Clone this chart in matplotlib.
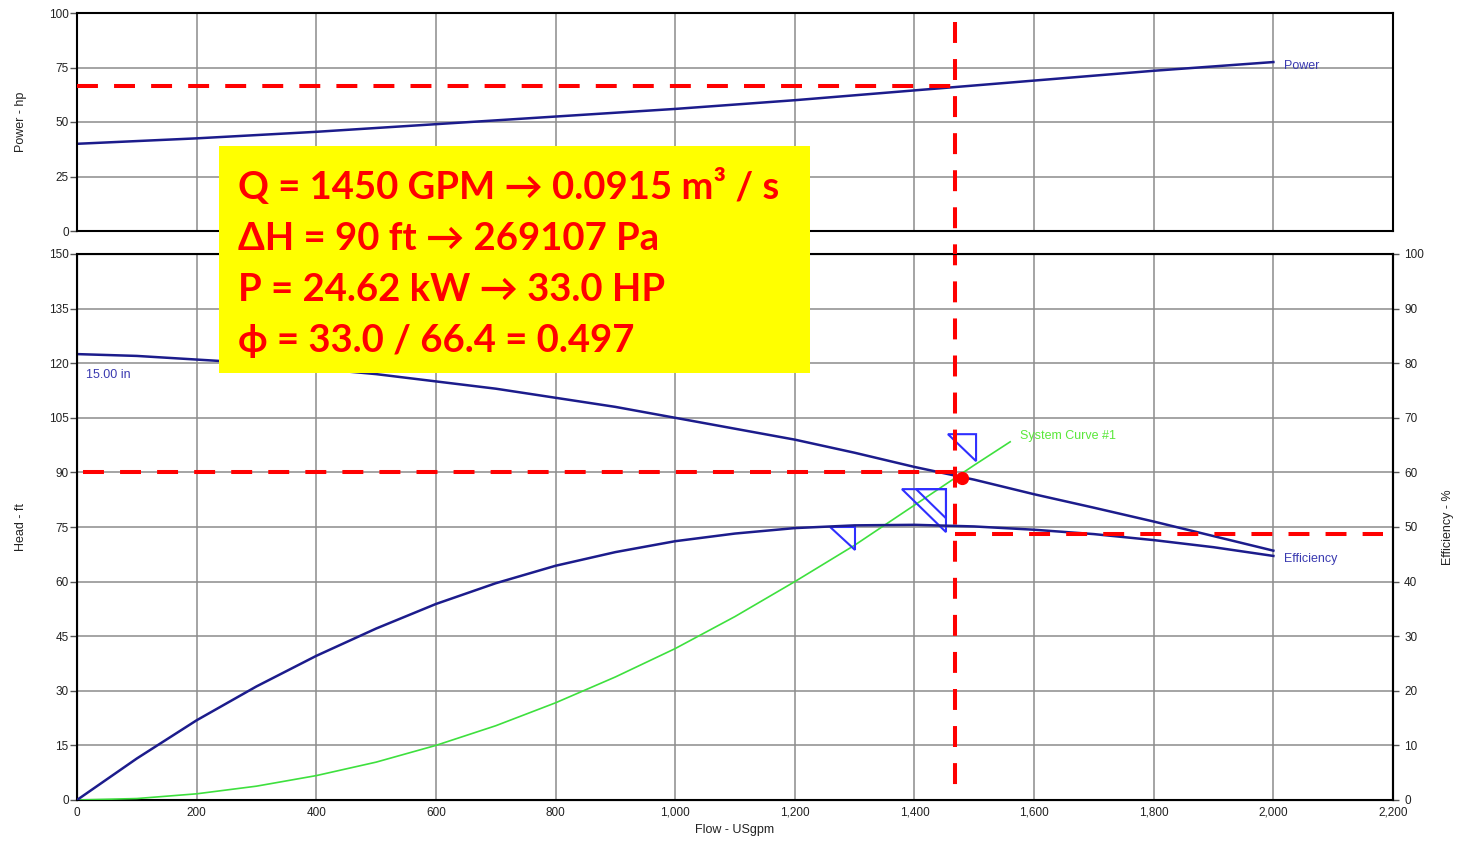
import numpy as np
import matplotlib.pyplot as plt
from matplotlib.patches import Rectangle, Polygon
from matplotlib.ticker import FuncFormatter, MultipleLocator
import matplotlib.transforms as mtransforms

plt.rcParams['font.family'] = ['Liberation Sans', 'DejaVu Sans']

# pump curves
flow = [0, 100, 200, 300, 400, 500, 600, 700, 800, 900, 1000,
        1100, 1200, 1300, 1400, 1500, 1600, 1700, 1800, 1900, 2000]
head_ft = [122.5, 122, 121, 120, 118.5, 117, 115, 113, 110.5, 108, 105,
           102, 99, 95.4, 91.5, 88, 84, 80.3, 76.5, 72.5, 68.5]
eff_pct = [0, 7.6, 14.6, 20.8, 26.4, 31.4, 35.9, 39.7, 42.9, 45.4, 47.4,
           48.8, 49.8, 50.3, 50.4, 50.1, 49.5, 48.7, 47.6, 46.3, 44.7]
power_flow = [0, 200, 400, 600, 800, 1000, 1200, 1400, 1600, 1800, 2000]
power_hp = [40, 42.5, 45.5, 49, 52.5, 56, 60, 64.5, 69, 73.5, 77.5]

sys_flow = [0, 100, 200, 300, 400, 500, 600, 700, 800, 900, 1000,
            1100, 1200, 1300, 1400, 1500, 1560]
sys_head = [0, 0.4, 1.7, 3.8, 6.7, 10.4, 15, 20.4, 26.7, 33.8, 41.6,
            50.4, 60, 70, 81, 92, 98.4]

# efficiency markers (right-angle corner, width in gpm, height in ft)
tri_flow = [1300.6, 1452.7, 1452.7, 1503]
tri_head = [75.0, 85.4, 85.4, 100.5]
tri_w = [41.6, 73.6, 50, 47]
tri_h = [6.3, 11.8, 8, 7.4]

# operating point
q_op = 1467
head_op = 90
power_op = 66.4
eff_op = 48.7
dot_flow, dot_head = 1479, 88.5

note_lines = ['Q = 1450 GPM \u2192 0.0915 m\u00b3 / s',
              '\u0394H = 90 ft \u2192 269107 Pa',
              'P = 24.62 kW \u2192 33.0 HP',
              '\u03d5 = 33.0 / 66.4 = 0.497']

W, H = 1461, 842
fig = plt.figure(figsize=(W / 100, H / 100), dpi=100)

def fx(px):
    return px / W

def fy(py):
    return 1 - py / H

navy = '#1c1c8c'
lblue = '#3a3ab0'
grid_c = '#8c8c8c'
tick_c = '#222222'
red = '#ff0000'

ax_top = fig.add_axes([fx(77), fy(231), fx(1393) - fx(77), fy(13) - fy(231)])
ax = fig.add_axes([fx(77), fy(800), fx(1393) - fx(77), fy(254) - fy(800)])
ax2 = ax.twinx()

comma = FuncFormatter(lambda v, p: f'{int(v):,}')

for a in (ax_top, ax):
    a.set_xlim(0, 2200)
    a.xaxis.set_major_locator(MultipleLocator(200))
    a.grid(True, color=grid_c, lw=1.1)
    a.set_axisbelow(True)
    for s in a.spines.values():
        s.set_linewidth(1.5)
    a.tick_params(axis='y', length=5, width=1, pad=1, labelsize=8.5,
                  labelcolor=tick_c, color='#555555')

ax_top.set_ylim(0, 100)
ax_top.yaxis.set_major_locator(MultipleLocator(25))
ax_top.tick_params(axis='x', length=0, labelbottom=False)
ax_top.set_ylabel('Power - hp', fontsize=9, color=tick_c, labelpad=16)

ax.set_ylim(0, 150)
ax.yaxis.set_major_locator(MultipleLocator(15))
ax.xaxis.set_major_formatter(comma)
ax.tick_params(axis='x', length=0, pad=5, labelsize=8.5, labelcolor=tick_c)
ax.set_ylabel('Head - ft', fontsize=9, color=tick_c, labelpad=16)
ax.set_xlabel('Flow - USgpm', fontsize=9, color=tick_c, labelpad=4)

ax2.set_ylim(0, 100)
ax2.yaxis.set_major_locator(MultipleLocator(10))
ax2.tick_params(axis='y', length=4, width=1, pad=4, labelsize=8.5,
                labelcolor=tick_c, color='#555555')
ax2.spines['right'].set_linewidth(1.5)
ax2.set_ylabel('Efficiency - %', fontsize=9, color=tick_c, labelpad=13)

# curves
ax_top.plot(power_flow, power_hp, color=navy, lw=1.8)
ax_top.text(2018, 75.7, 'Power', color=lblue, fontsize=9, va='center')

ax.plot(flow, head_ft, color=navy, lw=1.8, zorder=3)
ax.text(15, 116.8, '15.00 in', color=lblue, fontsize=9, va='center')
ax.plot(sys_flow, sys_head, color='#3ee03e', lw=1.2, zorder=3)
ax.text(1576, 100, 'System Curve #1', color='#5ae83a', fontsize=9, va='center')

ax2.plot(flow, eff_pct, color=navy, lw=1.8, zorder=3)
ax2.text(2018, 44.1, 'Efficiency', color=lblue, fontsize=9, va='center')

for f, h, w, hh in zip(tri_flow, tri_head, tri_w, tri_h):
    ax.add_patch(Polygon([(f - w, h), (f, h), (f, h - hh)], closed=True,
                         fill=False, edgecolor='#2f2fff', lw=1.5, zorder=4))

# operating point guides
dash = dict(color=red, lw=2.9, dashes=(5.2, 4), zorder=6)
ax_top.plot([0, q_op], [power_op, power_op], clip_on=False, **dash)
ax.plot([10, q_op], [head_op, head_op], **dash)
ax2.plot([q_op, 2183], [eff_op, eff_op], **dash)
blend = mtransforms.blended_transform_factory(ax.transData, fig.transFigure)
ax.plot([q_op, q_op], [fy(22), fy(790)], transform=blend, clip_on=False, **dash)
ax.plot([dot_flow], [dot_head], 'o', color=red, ms=8.5, zorder=7)

# yellow note box
fig.add_artist(Rectangle((fx(219), fy(373)), fx(810) - fx(219), fy(146) - fy(373),
                         transform=fig.transFigure, facecolor='#ffff00',
                         edgecolor='none', zorder=10))
baselines = [199, 250, 301, 352]
for line, b in zip(note_lines, baselines):
    fig.text(fx(238), fy(b), line, color=red, fontsize=27.5, fontweight='bold',
             family=['Lato', 'DejaVu Sans'], va='baseline', ha='left', zorder=11)

fig.savefig('out.png', dpi=100)
